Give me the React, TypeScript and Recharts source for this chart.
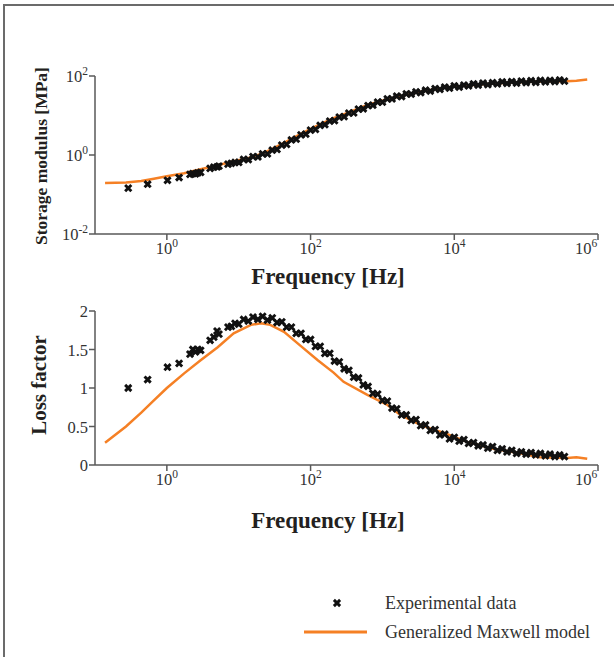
import { ComposedChart, Scatter, Line, XAxis, YAxis } from "recharts";

const FONT = '"Liberation Serif", "Times New Roman", serif';
const ORANGE = "#f58025";
const AXIS = "#595959";
const INK = "#231f20";

// generalized Maxwell model (fit)
const modelFreq = [
  0.138, 0.27, 0.44, 0.66, 1.0, 1.74, 2.95, 5.1, 8.5, 14.8, 20.4, 27.5, 42.7, 72, 126,
  209, 288, 617, 1175, 1778, 3390, 5130, 7080, 15100, 34700, 75900, 155000, 372000, 501000, 708000,
];
const modelStorage = [
  0.195, 0.2, 0.219, 0.251, 0.288, 0.347, 0.437, 0.55, 0.692, 0.871, 1.07, 1.35, 2.04, 3.39, 5.62,
  8.51, 10.7, 18.6, 25.7, 30.9, 39.8, 45.7, 50.1, 57.5, 64.6, 69.2, 72.4, 74.1, 75.9, 81.3,
];
const modelLoss = [
  0.29, 0.5, 0.68, 0.84, 1.0, 1.19, 1.36, 1.53, 1.71, 1.82, 1.84, 1.82, 1.73, 1.55, 1.36,
  1.2, 1.08, 0.91, 0.78, 0.65, 0.52, 0.46, 0.42, 0.3, 0.21, 0.16, 0.1, 0.09, 0.1, 0.08,
];

// master curve measurements
const expFreq = [
  0.29, 0.54, 1.02, 1.48, 2.1, 2.3, 2.5, 2.7, 2.95, 4.0, 4.5, 5.0, 5.3, 7.1, 7.9, 8.9,
  10, 11.7, 13.6, 15.8, 18.5, 21.5, 25.1, 29.3, 34.1, 39.8, 46.4, 54.1, 63.1, 73.6, 85.8,
  100, 117, 136, 158, 185, 215, 251, 293, 341, 398, 464, 541, 631, 736, 858,
  1000, 1170, 1360, 1580, 1850, 2150, 2510, 2930, 3410, 3980, 4640, 5410, 6310, 7360, 8580,
  10000, 11700, 13600, 15800, 18500, 21500, 25100, 29300, 34100, 39800, 46400, 54100, 63100, 73600, 85800,
  100000, 117000, 136000, 158000, 185000, 215000, 251000, 293000, 341000,
];
const expStorage = [
  0.145, 0.182, 0.229, 0.269, 0.324, 0.339, 0.331, 0.355, 0.363, 0.457, 0.49, 0.501, 0.525, 0.589, 0.617, 0.646,
  0.646, 0.776, 0.759, 0.912, 0.891, 1.07, 1.07, 1.32, 1.38, 1.78, 1.86, 2.4, 2.51, 3.24, 3.39,
  4.27, 4.47, 5.62, 5.89, 7.24, 7.41, 9.12, 9.33, 11.5, 11.7, 14.5, 14.8, 17.8, 18.2, 21.9,
  21.9, 26.3, 26.3, 30.9, 30.2, 35.5, 34.7, 39.8, 38.0, 43.7, 41.7, 47.9, 45.7, 52.5, 49.0,
  56.2, 52.5, 58.9, 56.2, 63.1, 58.9, 66.1, 60.3, 67.6, 63.1, 70.8, 64.6, 72.4, 66.1, 74.1,
  67.6, 75.9, 69.2, 77.6, 70.8, 77.6, 72.4, 79.4, 74.1,
];
const expLoss = [
  1.0, 1.11, 1.27, 1.32, 1.44, 1.5, 1.47, 1.5, 1.49, 1.62, 1.66, 1.74, 1.7, 1.79, 1.8, 1.84,
  1.83, 1.89, 1.87, 1.92, 1.89, 1.93, 1.88, 1.91, 1.85, 1.86, 1.79, 1.79, 1.71, 1.71, 1.63,
  1.63, 1.54, 1.54, 1.45, 1.45, 1.35, 1.34, 1.25, 1.23, 1.14, 1.13, 1.04, 1.02, 0.93, 0.92,
  0.84, 0.83, 0.74, 0.73, 0.65, 0.65, 0.58, 0.59, 0.51, 0.52, 0.45, 0.46, 0.39, 0.4, 0.34,
  0.36, 0.31, 0.33, 0.28, 0.29, 0.25, 0.26, 0.22, 0.24, 0.19, 0.21, 0.17, 0.19, 0.15, 0.17,
  0.14, 0.16, 0.13, 0.15, 0.12, 0.14, 0.11, 0.13, 0.11,
];

const freqTicks = [1, 100, 10000, 1000000];
const storageTicks = [0.01, 1, 100];
const lossTicks = [0, 0.5, 1, 1.5, 2];

const modelRows = modelFreq.map((f, i) => ({ f, storage: modelStorage[i], loss: modelLoss[i] }));
const expRows = expFreq.map((f, i) => ({ f, storage: expStorage[i], loss: expLoss[i] }));

function crossPath(cx: number, cy: number, r: number) {
  return `M${cx - r},${cy - r}L${cx + r},${cy + r}M${cx - r},${cy + r}L${cx + r},${cy - r}`;
}

function CrossMark(props: any) {
  const { cx, cy } = props;
  if (cx == null || cy == null) return null;
  return <path d={crossPath(cx, cy, 3.1)} stroke="#111" strokeWidth={2.9} fill="none" />;
}

function PowerTickX(props: any) {
  const { x, y, payload } = props;
  const exp = Math.round(Math.log10(payload.value));
  return (
    <text x={x} y={y} dy={12} textAnchor="middle" fill="#333" fontSize={16.5} fontFamily={FONT}>
      10<tspan dy={-7} fontSize={11.5}>{exp}</tspan>
    </text>
  );
}

function PowerTickY(props: any) {
  const { x, y, payload } = props;
  const exp = Math.round(Math.log10(payload.value));
  return (
    <text x={x} y={y} dy={6} textAnchor="end" fill="#333" fontSize={16.5} fontFamily={FONT}>
      10<tspan dy={-7} fontSize={11.5}>{exp < 0 ? "-" + Math.abs(exp) : exp}</tspan>
    </text>
  );
}

function PlainTickY(props: any) {
  const { x, y, payload } = props;
  return (
    <text x={x} y={y} dy={6} textAnchor="end" fill="#333" fontSize={16.5} fontFamily={FONT}>
      {String(payload.value)}
    </text>
  );
}

const axisStroke = { stroke: AXIS, strokeWidth: 1.5 };

export default function App() {
  return (
    <div
      style={{
        position: "absolute",
        left: 0,
        top: 0,
        width: 614,
        height: 657,
        overflow: "hidden",
        background: "#fff",
      }}
    >
      <div
        style={{
          position: "absolute",
          left: 3,
          top: 4,
          width: 700,
          height: 700,
          borderTop: "2px solid #6b6b6b",
          borderLeft: "2px solid #6b6b6b",
        }}
      />

      {/* storage modulus */}
      <div style={{ position: "absolute", left: 0, top: 0 }}>
        <ComposedChart width={614} height={290} margin={{ top: 76, right: 16, left: 0, bottom: 0 }}>
          <XAxis
            type="number"
            dataKey="f"
            scale="log"
            domain={[0.1, 1000000]}
            allowDataOverflow
            ticks={freqTicks}
            height={56}
            axisLine={axisStroke}
            tickLine={axisStroke}
            tickSize={6}
            tick={(p: any) => <PowerTickX {...p} />}
          />
          <YAxis
            type="number"
            dataKey="storage"
            scale="log"
            domain={[0.01, 100]}
            allowDataOverflow
            ticks={storageTicks}
            width={95}
            axisLine={axisStroke}
            tickLine={axisStroke}
            tickSize={6}
            tickMargin={1}
            tick={(p: any) => <PowerTickY {...p} />}
          />
          <Scatter data={expRows} dataKey="storage" shape={CrossMark} isAnimationActive={false} />
          <Line
            data={modelRows}
            dataKey="storage"
            type="linear"
            stroke={ORANGE}
            strokeWidth={2.5}
            dot={false}
            activeDot={false}
            isAnimationActive={false}
          />
        </ComposedChart>
      </div>

      {/* loss factor */}
      <div style={{ position: "absolute", left: 0, top: 290 }}>
        <ComposedChart width={614} height={250} margin={{ top: 21, right: 16, left: 0, bottom: 0 }}>
          <XAxis
            type="number"
            dataKey="f"
            scale="log"
            domain={[0.1, 1000000]}
            allowDataOverflow
            ticks={freqTicks}
            height={75}
            axisLine={axisStroke}
            tickLine={axisStroke}
            tickSize={6}
            tick={(p: any) => <PowerTickX {...p} />}
          />
          <YAxis
            type="number"
            dataKey="loss"
            domain={[0, 2]}
            allowDataOverflow
            ticks={lossTicks}
            width={95}
            axisLine={axisStroke}
            tickLine={axisStroke}
            tickSize={6}
            tickMargin={1}
            tick={(p: any) => <PlainTickY {...p} />}
          />
          <Scatter data={expRows} dataKey="loss" shape={CrossMark} isAnimationActive={false} />
          <Line
            data={modelRows}
            dataKey="loss"
            type="linear"
            stroke={ORANGE}
            strokeWidth={2.5}
            dot={false}
            activeDot={false}
            isAnimationActive={false}
          />
        </ComposedChart>
      </div>

      {/* titles and legend */}
      <svg
        width={614}
        height={657}
        style={{ position: "absolute", left: 0, top: 0, pointerEvents: "none" }}
        fontFamily={FONT}
      >
        <text x={328} y={284} textAnchor="middle" fontSize={23} fontWeight="bold" fill={INK}>
          Frequency [Hz]
        </text>
        <text x={328} y={528} textAnchor="middle" fontSize={23} fontWeight="bold" fill={INK}>
          Frequency [Hz]
        </text>
        <text
          transform="translate(47,156) rotate(-90)"
          textAnchor="middle"
          fontSize={17.5}
          fontWeight="bold"
          fill={INK}
        >
          Storage modulus [MPa]
        </text>
        <text
          transform="translate(46,385) rotate(-90)"
          textAnchor="middle"
          fontSize={21}
          fontWeight="bold"
          fill={INK}
        >
          Loss factor
        </text>

        <path d={crossPath(337, 603, 3.1)} stroke="#111" strokeWidth={2.9} fill="none" />
        <text x={385} y={609} fontSize={18} fill="#333">
          Experimental data
        </text>
        <line x1={304} x2={367} y1={632} y2={632} stroke={ORANGE} strokeWidth={3} />
        <text x={385} y={638} fontSize={18} fill="#333">
          Generalized Maxwell model
        </text>
      </svg>
    </div>
  );
}
